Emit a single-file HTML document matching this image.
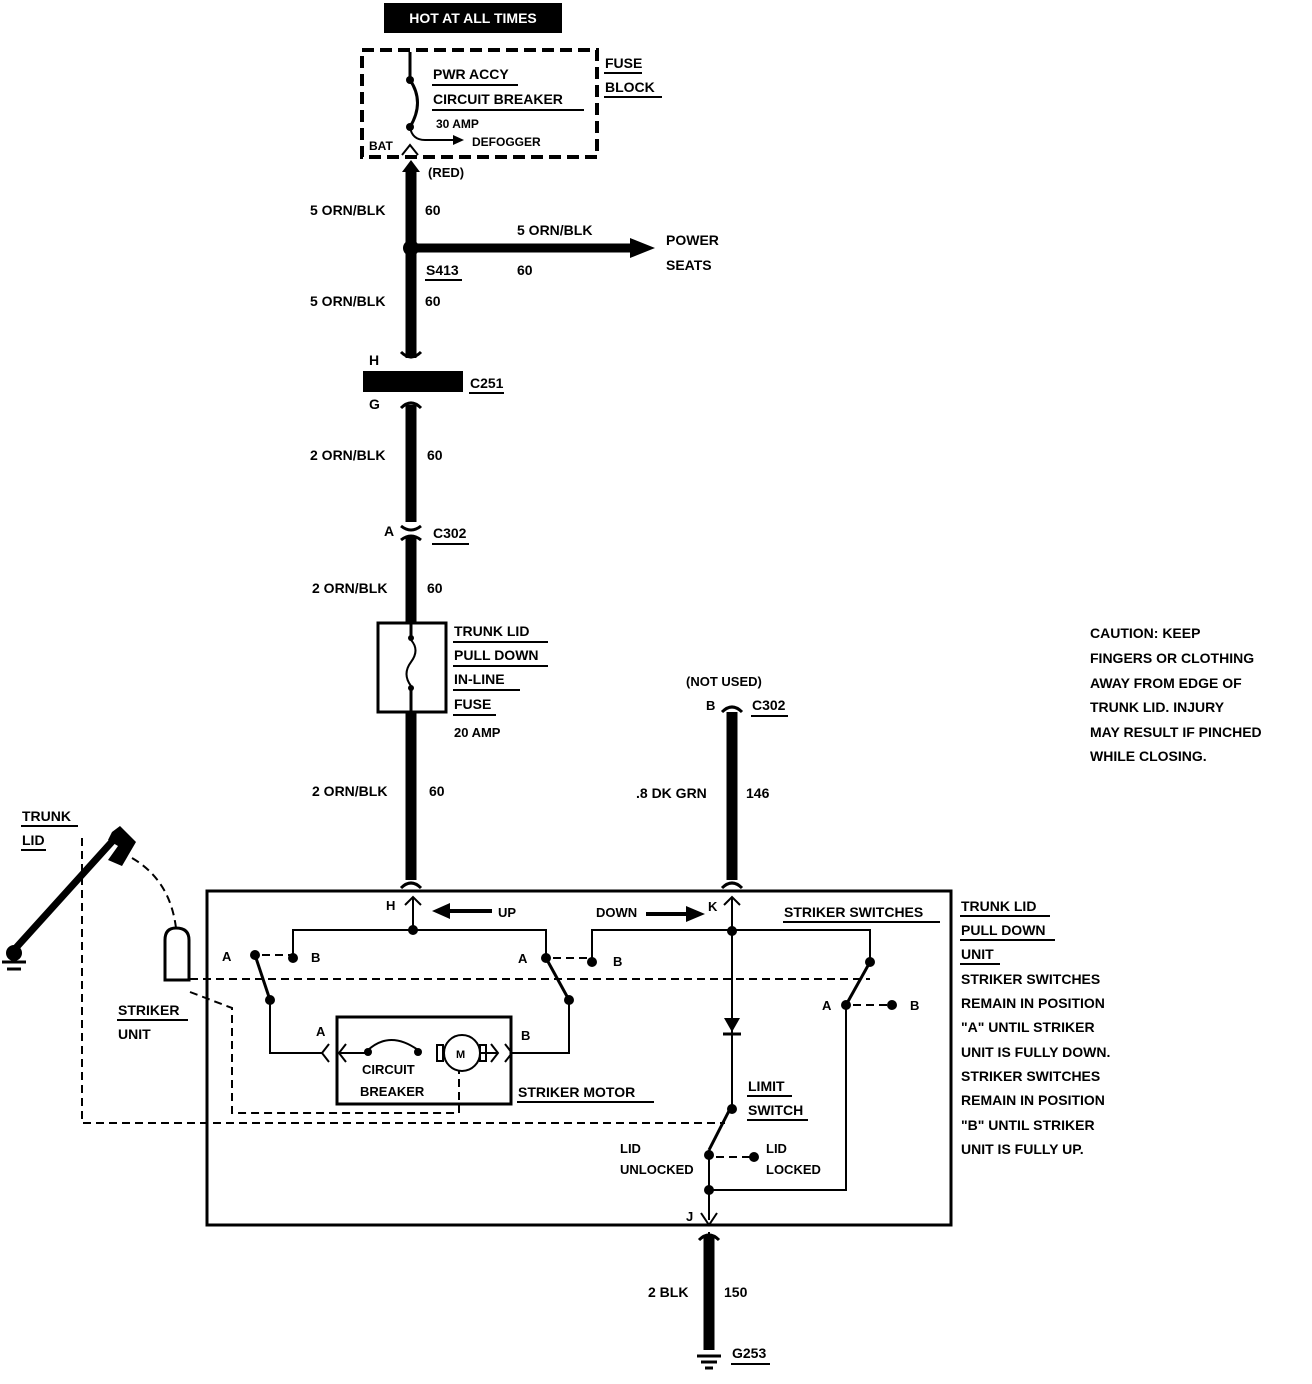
<!DOCTYPE html>
<html><head><meta charset="utf-8"><style>
html,body{margin:0;padding:0;background:#fff;}
svg{display:block;}
text{font-family:"Liberation Sans",sans-serif;font-weight:bold;font-size:14px;fill:#000;}
.s{font-size:13px;}
</style></head><body>
<svg width="1312" height="1384" viewBox="0 0 1312 1384" xmlns="http://www.w3.org/2000/svg">
<rect x="384" y="3" width="178" height="30" fill="#000"/>
<text x="473" y="23" text-anchor="middle" style="fill:#fff;font-size:14px">HOT AT ALL TIMES</text>
<rect x="362" y="50" width="235" height="107" fill="none" stroke="#000" stroke-width="4" stroke-dasharray="12,6"/>
<text x="605" y="68">FUSE</text><line x1="604" y1="73" x2="642" y2="73" stroke="#000" stroke-width="2"/>
<text x="605" y="92">BLOCK</text><line x1="604" y1="97" x2="662" y2="97" stroke="#000" stroke-width="2"/>
<path d="M410 52 V80 M410 80 Q425 102 410 127" fill="none" stroke="#000" stroke-width="3"/>
<circle cx="410" cy="80" r="4"/><circle cx="410" cy="127" r="4"/>
<path d="M410 127 Q412 140 425 140 H455" fill="none" stroke="#000" stroke-width="2"/>
<polygon points="453,135 464,140 453,145"/>
<text x="433" y="79">PWR ACCY</text><line x1="432" y1="85" x2="518" y2="85" stroke="#000" stroke-width="2"/>
<text x="433" y="104">CIRCUIT BREAKER</text><line x1="432" y1="110" x2="584" y2="110" stroke="#000" stroke-width="2"/>
<text x="436" y="128" class="s" style="font-size:12px">30 AMP</text>
<text x="472" y="146" style="font-size:12px">DEFOGGER</text>
<text x="369" y="150" style="font-size:12px">BAT</text>
<path d="M402 155 L410 145 L418 155" fill="none" stroke="#000" stroke-width="2"/>
<line x1="411" y1="168" x2="411" y2="358" stroke="#000" stroke-width="11"/>
<polygon points="402,172 411,160 420,172"/>
<text x="428" y="177" class="s">(RED)</text>
<text x="310" y="215">5 ORN/BLK</text><text x="425" y="215">60</text>
<circle cx="411" cy="248" r="8"/>
<line x1="411" y1="248" x2="635" y2="248" stroke="#000" stroke-width="9"/>
<polygon points="630,238 655,248 630,258"/>
<text x="517" y="235">5 ORN/BLK</text>
<text x="666" y="245">POWER</text><text x="666" y="270">SEATS</text>
<text x="426" y="275">S413</text><line x1="425" y1="280" x2="462" y2="280" stroke="#000" stroke-width="2"/>
<text x="517" y="275">60</text>
<text x="310" y="306">5 ORN/BLK</text><text x="425" y="306">60</text>
<path d="M401 352 Q411 362 421 352" fill="none" stroke="#000" stroke-width="3"/>
<text x="369" y="365">H</text>
<rect x="363" y="371" width="100" height="21" fill="#000"/>
<text x="470" y="388">C251</text><line x1="469" y1="393" x2="504" y2="393" stroke="#000" stroke-width="2"/>
<text x="369" y="409">G</text>
<path d="M401 408 Q411 398 421 408" fill="none" stroke="#000" stroke-width="3"/>
<line x1="411" y1="405" x2="411" y2="522" stroke="#000" stroke-width="11"/>
<text x="310" y="460">2 ORN/BLK</text><text x="427" y="460">60</text>
<path d="M401 526 Q411 534 421 526" fill="none" stroke="#000" stroke-width="3"/>
<path d="M401 540 Q411 532 421 540" fill="none" stroke="#000" stroke-width="3"/>
<text x="384" y="536">A</text>
<text x="433" y="538">C302</text><line x1="432" y1="544" x2="469" y2="544" stroke="#000" stroke-width="2"/>
<line x1="411" y1="537" x2="411" y2="622" stroke="#000" stroke-width="11"/>
<text x="312" y="593">2 ORN/BLK</text><text x="427" y="593">60</text>
<rect x="378" y="623" width="68" height="89" fill="none" stroke="#000" stroke-width="3"/>
<path d="M411 623 V638 M411 688 V712" stroke="#000" stroke-width="3"/>
<circle cx="411" cy="638" r="3"/><circle cx="411" cy="688" r="3"/>
<path d="M411 640 Q420 650 411 662 Q402 674 411 686" fill="none" stroke="#000" stroke-width="2"/>
<text x="454" y="636">TRUNK LID</text><line x1="453" y1="642" x2="548" y2="642" stroke="#000" stroke-width="2"/>
<text x="454" y="660">PULL DOWN</text><line x1="453" y1="666" x2="548" y2="666" stroke="#000" stroke-width="2"/>
<text x="454" y="684">IN-LINE</text><line x1="453" y1="690" x2="520" y2="690" stroke="#000" stroke-width="2"/>
<text x="454" y="709">FUSE</text><line x1="453" y1="715" x2="496" y2="715" stroke="#000" stroke-width="2"/>
<text x="454" y="737" class="s">20 AMP</text>
<line x1="411" y1="712" x2="411" y2="880" stroke="#000" stroke-width="11"/>
<text x="312" y="796">2 ORN/BLK</text><text x="429" y="796">60</text>
<path d="M401 888 Q411 878 421 888" fill="none" stroke="#000" stroke-width="3"/>
<text x="686" y="686" class="s">(NOT USED)</text>
<text x="706" y="710" class="s">B</text>
<path d="M722 712 Q732 702 742 712" fill="none" stroke="#000" stroke-width="3"/>
<text x="752" y="710">C302</text><line x1="751" y1="716" x2="788" y2="716" stroke="#000" stroke-width="2"/>
<line x1="732" y1="712" x2="732" y2="880" stroke="#000" stroke-width="11"/>
<text x="636" y="798">.8 DK GRN</text><text x="746" y="798">146</text>
<path d="M722 888 Q732 878 742 888" fill="none" stroke="#000" stroke-width="3"/>
<g style="font-size:14px">
<text x="1090" y="638">CAUTION: KEEP</text>
<text x="1090" y="663">FINGERS OR CLOTHING</text>
<text x="1090" y="688">AWAY FROM EDGE OF</text>
<text x="1090" y="712">TRUNK LID. INJURY</text>
<text x="1090" y="737">MAY RESULT IF PINCHED</text>
<text x="1090" y="761">WHILE CLOSING.</text>
</g>
<rect x="207" y="891" width="744" height="334" fill="none" stroke="#000" stroke-width="3"/>
<text x="961" y="911">TRUNK LID</text><line x1="960" y1="916" x2="1050" y2="916" stroke="#000" stroke-width="2"/>
<text x="961" y="935">PULL DOWN</text><line x1="960" y1="940" x2="1055" y2="940" stroke="#000" stroke-width="2"/>
<text x="961" y="959">UNIT</text><line x1="960" y1="964" x2="1000" y2="964" stroke="#000" stroke-width="2"/>
<g style="font-size:14px">
<text x="961" y="984">STRIKER SWITCHES</text>
<text x="961" y="1008">REMAIN IN POSITION</text>
<text x="961" y="1032">"A" UNTIL STRIKER</text>
<text x="961" y="1057">UNIT IS FULLY DOWN.</text>
<text x="961" y="1081">STRIKER SWITCHES</text>
<text x="961" y="1105">REMAIN IN POSITION</text>
<text x="961" y="1130">"B" UNTIL STRIKER</text>
<text x="961" y="1154">UNIT IS FULLY UP.</text>
</g>
<text x="784" y="917">STRIKER SWITCHES</text><line x1="783" y1="922" x2="940" y2="922" stroke="#000" stroke-width="2"/>
<g fill="none" stroke="#000" stroke-width="2">
<path d="M413 897 V930 M293 958 V930 H546 V958"/>
<path d="M405 905 L413 897 L421 905"/>
<path d="M732 897 V1105 M592 962 V930 H870 V960"/>
<path d="M724 905 L732 897 L740 905"/>
<path d="M270 1000 V1053 H322 M569 1000 V1053 H512"/>
<path d="M329 1044 L322 1053 L329 1062 M505 1044 L512 1053 L505 1062"/>
<path d="M346 1044 L339 1053 L346 1062 M491 1044 L498 1053 L491 1062"/>
<path d="M339 1053 H368 M447 1053 H498"/>
<path d="M368 1050 Q390 1030 418 1050"/>
<path d="M846 1005 V1190 H709 M709 1150 V1220"/>
<path d="M701 1213 L709 1225 L717 1213"/>
<path d="M709 1232 V1340"/>
</g>
<g stroke="#000" stroke-width="3" fill="none">
<path d="M255 955 L270 1000"/><path d="M546 958 L569 1000"/><path d="M870 962 L846 1005"/>
<path d="M732 1105 L709 1150"/>
</g>
<g>
<circle cx="255" cy="955" r="5"/><circle cx="293" cy="958" r="5"/><circle cx="270" cy="1000" r="5"/>
<circle cx="413" cy="930" r="5"/><circle cx="546" cy="958" r="5"/><circle cx="592" cy="962" r="5"/><circle cx="569" cy="1000" r="5"/>
<circle cx="732" cy="931" r="5"/><circle cx="870" cy="962" r="5"/><circle cx="846" cy="1005" r="5"/><circle cx="892" cy="1005" r="5"/>
<circle cx="732" cy="1109" r="5"/><circle cx="709" cy="1155" r="5"/><circle cx="754" cy="1157" r="5"/><circle cx="709" cy="1190" r="5"/>
<circle cx="368" cy="1052" r="4"/><circle cx="418" cy="1052" r="4"/>
</g>
<g fill="none" stroke="#000" stroke-width="2" stroke-dasharray="8,5">
<path d="M262 955 H290 M553 958 H590 M853 1005 H890 M716 1157 H752"/>
<path d="M190 979 H870"/>
<path d="M190 992 L232 1008 V1113 H459 V1068"/>
<path d="M82 838 V1123 H725"/>
<path d="M132 858 Q170 880 176 928"/>
</g>
<polygon points="724,1018 740,1018 732,1032"/>
<line x1="723" y1="1034" x2="741" y2="1034" stroke="#000" stroke-width="3"/>
<rect x="437" y="1045" width="6" height="16" fill="none" stroke="#000" stroke-width="2"/>
<rect x="480" y="1045" width="6" height="16" fill="none" stroke="#000" stroke-width="2"/>
<circle cx="462" cy="1053" r="18" fill="#fff" stroke="#000" stroke-width="2"/>
<text x="456" y="1058" style="font-size:11px">M</text>
<rect x="337" y="1017" width="174" height="87" fill="none" stroke="#000" stroke-width="3"/>
<text x="362" y="1074" class="s">CIRCUIT</text>
<text x="360" y="1096" class="s">BREAKER</text>
<text x="518" y="1097">STRIKER MOTOR</text><line x1="517" y1="1102" x2="654" y2="1102" stroke="#000" stroke-width="2"/>
<text x="316" y="1036" class="s">A</text><text x="521" y="1040" class="s">B</text>
<text x="222" y="961" class="s">A</text><text x="311" y="962" class="s">B</text>
<text x="518" y="963" class="s">A</text><text x="613" y="966" class="s">B</text>
<text x="822" y="1010" class="s">A</text><text x="910" y="1010" class="s">B</text>
<text x="386" y="910" class="s">H</text>
<text x="708" y="911" class="s">K</text>
<text x="498" y="917" class="s">UP</text>
<line x1="442" y1="911" x2="492" y2="911" stroke="#000" stroke-width="4"/>
<polygon points="432,911 450,903 450,919"/>
<text x="596" y="917" class="s">DOWN</text>
<line x1="646" y1="914" x2="690" y2="914" stroke="#000" stroke-width="4"/>
<polygon points="705,914 686,906 686,922"/>
<text x="748" y="1091">LIMIT</text><line x1="747" y1="1096" x2="792" y2="1096" stroke="#000" stroke-width="2"/>
<text x="748" y="1115">SWITCH</text><line x1="747" y1="1120" x2="808" y2="1120" stroke="#000" stroke-width="2"/>
<text x="620" y="1153" class="s">LID</text><text x="620" y="1174" class="s">UNLOCKED</text>
<text x="766" y="1153" class="s">LID</text><text x="766" y="1174" class="s">LOCKED</text>
<text x="686" y="1221" class="s">J</text>
<line x1="709" y1="1236" x2="709" y2="1350" stroke="#000" stroke-width="11"/>
<path d="M699 1240 Q709 1230 719 1240" fill="none" stroke="#000" stroke-width="3"/>
<text x="648" y="1297">2 BLK</text><text x="724" y="1297">150</text>
<line x1="697" y1="1356" x2="721" y2="1356" stroke="#000" stroke-width="3"/>
<line x1="701" y1="1362" x2="717" y2="1362" stroke="#000" stroke-width="3"/>
<line x1="705" y1="1368" x2="713" y2="1368" stroke="#000" stroke-width="3"/>
<text x="732" y="1358">G253</text><line x1="731" y1="1364" x2="770" y2="1364" stroke="#000" stroke-width="2"/>
<text x="22" y="821">TRUNK</text><line x1="21" y1="826" x2="78" y2="826" stroke="#000" stroke-width="2"/>
<text x="22" y="845">LID</text><line x1="21" y1="850" x2="46" y2="850" stroke="#000" stroke-width="2"/>
<line x1="14" y1="950" x2="118" y2="835" stroke="#000" stroke-width="7"/>
<polygon points="112,832 120,826 136,842 122,866 108,860 118,846 108,840"/>
<circle cx="14" cy="953" r="8"/>
<line x1="2" y1="962" x2="26" y2="962" stroke="#000" stroke-width="3"/>
<line x1="7" y1="969" x2="21" y2="969" stroke="#000" stroke-width="3"/>
<path d="M165 980 V940 Q165 928 176 928 Q189 928 189 940 V980 Z" fill="none" stroke="#000" stroke-width="3"/>
<text x="118" y="1015">STRIKER</text><line x1="117" y1="1020" x2="188" y2="1020" stroke="#000" stroke-width="2"/>
<text x="118" y="1039">UNIT</text>
</svg>
</body></html>
